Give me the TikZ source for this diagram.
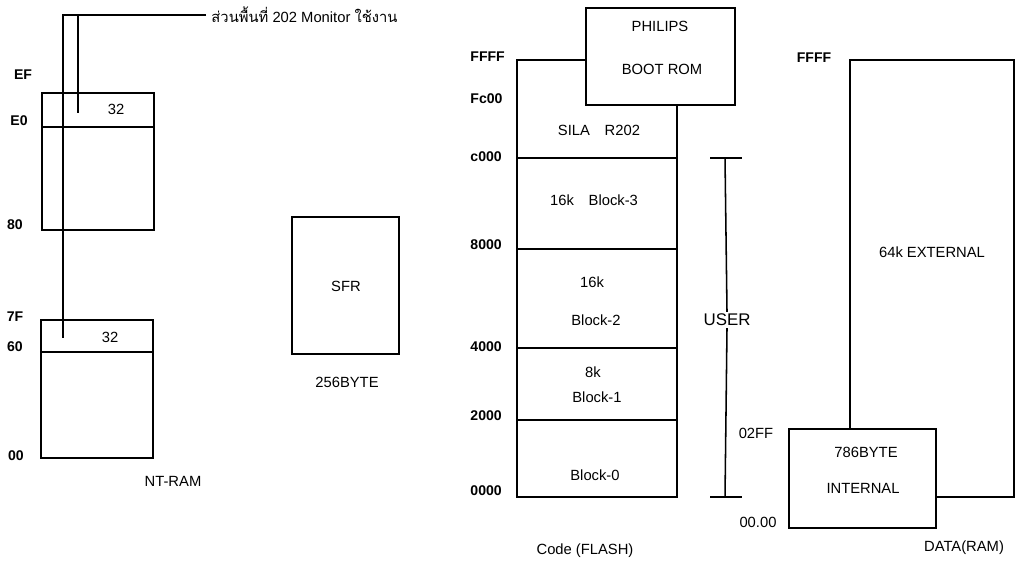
\documentclass[tikz,border=0pt]{standalone}
\usepackage{fontspec}
\setmainfont{Liberation Sans}
\newfontfamily\thaifont[Script=Thai]{Loma}
\tikzset{
  addr/.style={font=\fontsize{10}{12}\selectfont\bfseries},
  txt/.style={font=\fontsize{10.5}{12}\selectfont},
}
\begin{document}
\begin{tikzpicture}[x=0.025cm, y=-0.025cm, line width=1.1pt]
\useasboundingbox (0,0) rectangle (1016,564);

% internal RAM
\node[addr] (aEF) at (23,75) {EF};
\node[addr] (aE0) at (19,121) {E0};
\node[addr] (a80) at (15,225) {80};
\node[addr] (a7F) at (15,317) {7F};
\node[addr] (a60) at (15,347) {60};
\node[addr] (a00) at (16,456) {00};
\draw (42,93) rectangle (154,230);
\draw (42,127) -- (154,127);
\draw (41,320) rectangle (153,458);
\draw (41,352) -- (153,352);
\node[txt] (hi32) at (116,109) {32};
\node[txt] (lo32) at (110,337) {32};
\node[txt] (intram) at (173,481) {NT-RAM};

% monitor area
\node[txt, anchor=west] (mon) at (206,15) {{\thaifont ส่วนพื้นที่} 202 Monitor {\thaifont ใช้งาน}};
\coordinate (tapA) at (63,338);
\coordinate (tapB) at (78,113);
\draw (mon.west) -| (tapA);
\draw (78,15) -- (tapB);

% SFR
\draw (292,217) rectangle (399,354);
\node[txt] (sfr) at (346,286) {SFR};
\node[txt] (sfrsize) at (347,382) {256BYTE};

% code (flash)
\node[addr, anchor=west] (cFFFF) at (465,57) {FFFF};
\node[addr, anchor=west] (cFC00) at (465,99) {Fc00};
\node[addr, anchor=west] (cC000) at (465,157) {c000};
\node[addr, anchor=west] (c8000) at (465,245) {8000};
\node[addr, anchor=west] (c4000) at (465,347) {4000};
\node[addr, anchor=west] (c2000) at (465,416) {2000};
\node[addr, anchor=west] (c0000) at (465,491) {0000};
\draw (586,60) -- (517,60) -- (517,497) -- (677,497) -- (677,105);
\foreach \yy in {158,249,348,420}
  \draw (517,\yy) -- (677,\yy);
\draw (586,8) rectangle (735,105);
\node[txt] (philips) at (660,26) {PHILIPS};
\node[txt] (bootrom) at (662,69) {BOOT ROM};
\node[txt] (sila) at (599,130) {SILA\quad R202};
\node[txt] (blk3) at (594,200) {16k\quad Block-3};
\node[txt] (sz2) at (592,282) {16k};
\node[txt] (blk2) at (596,320) {Block-2};
\node[txt] (sz1) at (593,372) {8k};
\node[txt] (blk1) at (597,397) {Block-1};
\node[txt] (blk0) at (595,475) {Block-0};
\node[txt] (code) at (585,551) {Code (FLASH)};

% user range
\node[font=\fontsize{12}{14}\selectfont, inner sep=1pt] (user) at (727,320) {USER};
\coordinate (uTop) at (725,158);
\coordinate (uBot) at (725,497);
\draw (710,158) -- (742,158);
\draw (710,497) -- (742,497);
\draw (uTop) -- (user.north);
\draw (user.south) -- (uBot);

% data (ram)
\node[addr] (dFFFF) at (814,58) {FFFF};
\draw (850,429) -- (850,60) -- (1014,60) -- (1014,497) -- (936,497);
\draw (789,429) rectangle (936,528);
\node[txt] (ext) at (932,252) {64k EXTERNAL};
\node[txt] (intb) at (866,452) {786BYTE};
\node[txt] (intn) at (863,488) {INTERNAL};
\node[txt] (d02FF) at (756,433) {02FF};
\node[txt] (d0000) at (758,522) {00.00};
\node[txt] (data) at (964,548) {DATA(RAM)};
\end{tikzpicture}
\end{document}
